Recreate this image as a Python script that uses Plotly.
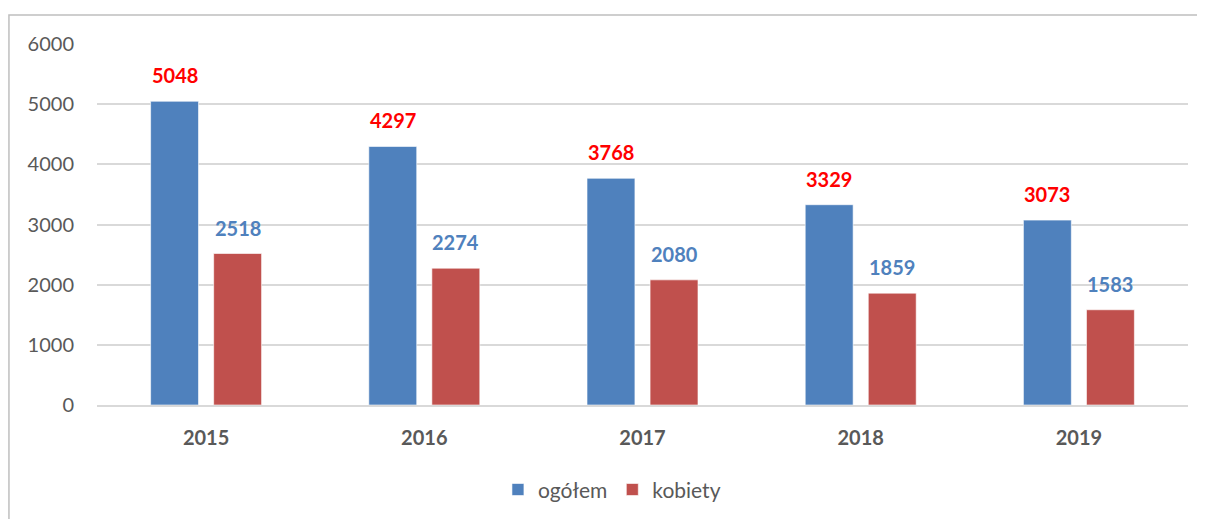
import plotly.graph_objects as go

years = ["2015", "2016", "2017", "2018", "2019"]
ogolem = [5048, 4297, 3768, 3329, 3073]
kobiety = [2518, 2274, 2080, 1859, 1583]
y_ticks = [0, 1000, 2000, 3000, 4000, 5000, 6000]

FONT = "Lato"
GRAY = "#595959"
BLUE = "#4F81BD"
RED = "#C0504D"

fig = go.Figure()
fig.add_trace(go.Bar(name="ogółem", x=years, y=ogolem,
                     marker=dict(color=BLUE, line=dict(color="rgba(255,255,255,0.6)", width=1))))
fig.add_trace(go.Bar(name="kobiety", x=years, y=kobiety,
                     marker=dict(color=RED, line=dict(color="rgba(255,255,255,0.6)", width=1))))

# data labels (x given as category index on the category axis)
for i, v in enumerate(ogolem):
    fig.add_annotation(x=i, y=v, text=f"<b>{v}</b>", showarrow=False, xshift=-31.5, yshift=26,
                       yanchor="middle", font=dict(family=FONT, size=20, color="#FF0000"))
for i, v in enumerate(kobiety):
    fig.add_annotation(x=i, y=v, text=f"<b>{v}</b>", showarrow=False, xshift=31.5, yshift=26,
                       yanchor="middle", font=dict(family=FONT, size=20, color=BLUE))

# outer chart frame (left and top edges visible)
fig.add_shape(type="rect", xref="paper", yref="paper", x0=-0.0807, y0=-0.5, x1=1.2, y1=1.080,
              line=dict(color="#BFBFBF", width=1.5), layer="below")

fig.update_layout(
    width=1197, height=511,
    margin=dict(l=89, r=17, t=36, b=114, autoexpand=False),
    paper_bgcolor="white", plot_bgcolor="white",
    barmode="group", bargap=0.422, bargroupgap=0.24,
    font=dict(family=FONT, color=GRAY, size=20),
    showlegend=True,
    legend=dict(orientation="h", x=0.472, xanchor="center", y=-0.235, yanchor="middle",
                font=dict(family=FONT, size=21, color=GRAY), itemwidth=30, tracegroupgap=0),
    xaxis=dict(type="category", range=[-0.5, 4.5], showgrid=False, showline=True,
               linecolor="#D9D9D9", linewidth=1.5,
               tickfont=dict(family=FONT, size=20, color=GRAY), ticks="", ticklabelstandoff=14,
               tickprefix="<b>", ticksuffix="</b>", automargin=False),
    yaxis=dict(range=[0, 6000], tickvals=y_ticks, showgrid=True, gridcolor="#D9D9D9", gridwidth=1.5,
               zeroline=False, showline=False, ticks="", ticklabelstandoff=22, automargin=False,
               tickfont=dict(family=FONT, size=20, color=GRAY)),
)

fig.write_html("out.html")
